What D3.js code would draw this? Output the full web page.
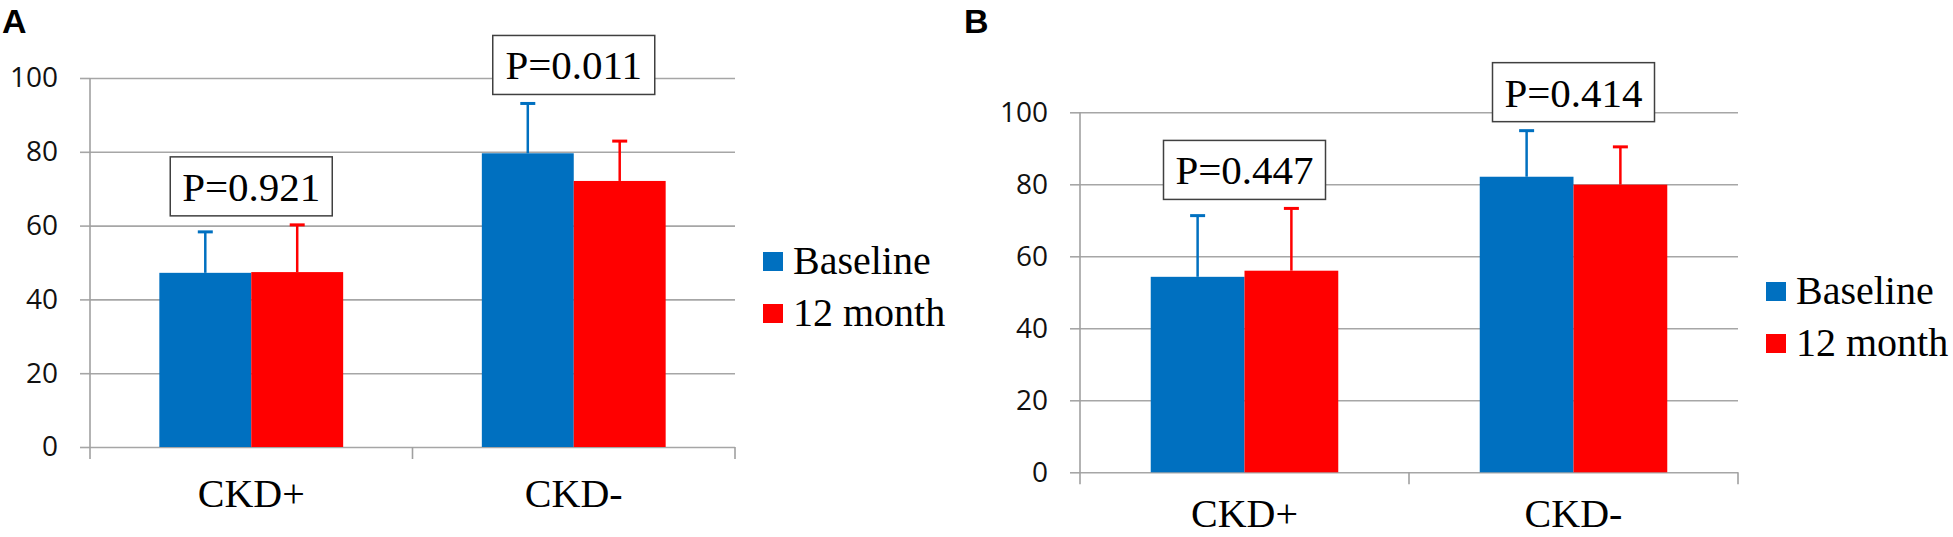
<!DOCTYPE html>
<html>
<script src='https://d3js.org/d3.v7.min.js'></script>
<style>
	body {margin: 0; background: white; }
	svg {display: block; }
</style>
<body>
<svg id="chart" width="1953" height="537"></svg>
<script>
// values
const categories = ["CKD+", "CKD-"];
const seriesNames = ["Baseline", "12 month"];
const seriesColors = ["#0070C0", "#FF0000"];
const yTicks = [0, 20, 40, 60, 80, 100];

const meanA = {"Baseline": [47.2, 79.6], "12 month": [47.4, 72.1]};
const sdA   = {"Baseline": [11.1, 13.5], "12 month": [12.8, 10.8]};
const pA = ["P=0.921", "P=0.011"];

const meanB = {"Baseline": [54.3, 82.1], "12 month": [56.0, 79.9]};
const sdB   = {"Baseline": [17.0, 12.8], "12 month": [17.3, 10.5]};
const pB = ["P=0.447", "P=0.414"];

const svg = d3.select("#chart");

function drawPanel(opt) {
	const g = svg.append("g");

	const x = d3.scaleBand()
		.domain(categories)
		.range([opt.left, opt.right])
		.paddingInner(0.43)
		.paddingOuter(0.215);
	const outer = d3.scaleBand().domain(categories).range([opt.left, opt.right]);
	const x1 = d3.scaleBand().domain(seriesNames).range([0, x.bandwidth()]);

	const y = d3.scaleLinear().domain([0, 100]).range([opt.bottom, opt.top]);

	// gridlines
	g.append("g")
		.attr("transform", `translate(${opt.left},0)`)
		.call(d3.axisLeft(y).tickValues(yTicks).tickSize(-(opt.right - opt.left)).tickFormat(""))
		.call(a => a.select(".domain").remove())
		.call(a => a.selectAll("line").attr("stroke", "#a6a6a6").attr("stroke-width", 1.6));

	// tick marks + labels
	g.append("g")
		.attr("transform", `translate(${opt.left},0)`)
		.call(d3.axisLeft(y).tickValues(yTicks).tickSize(10).tickPadding(22))
		.call(a => a.select(".domain").remove())
		.call(a => a.selectAll("line").attr("stroke", "#a6a6a6").attr("stroke-width", 1.6))
		.call(a => a.selectAll("text")
			.attr("font-family", "'Open Sans', sans-serif")
			.attr("font-size", 28)
			.attr("fill", "#111"));

	// y axis line
	g.append("line")
		.attr("x1", opt.left).attr("x2", opt.left)
		.attr("y1", y(100)).attr("y2", y(0) + 12)
		.attr("stroke", "#a0a0a0").attr("stroke-width", 1.6);

	// category boundary ticks
	g.selectAll(".cat-tick")
		.data(categories)
		.enter()
		.append("line")
		.attr("x1", d => outer(d) + outer.bandwidth())
		.attr("x2", d => outer(d) + outer.bandwidth())
		.attr("y1", y(0)).attr("y2", y(0) + 12)
		.attr("stroke", "#a0a0a0").attr("stroke-width", 1.6);

	const bars = [];
	seriesNames.forEach((s, si) => {
		categories.forEach((c, ci) => {
			bars.push({cat: c, series: s, color: seriesColors[si], mean: opt.mean[s][ci], sd: opt.sd[s][ci]});
		});
	});

	g.selectAll(".bar")
		.data(bars)
		.enter()
		.append("rect")
		.attr("x", d => x(d.cat) + x1(d.series))
		.attr("y", d => y(d.mean))
		.attr("width", x1.bandwidth())
		.attr("height", d => y(0) - y(d.mean))
		.attr("fill", d => d.color);

	// error bars (upper only)
	const eb = g.selectAll(".err")
		.data(bars)
		.enter()
		.append("g");
	eb.append("line")
		.attr("x1", d => x(d.cat) + x1(d.series) + x1.bandwidth() / 2)
		.attr("x2", d => x(d.cat) + x1(d.series) + x1.bandwidth() / 2)
		.attr("y1", d => y(d.mean))
		.attr("y2", d => y(d.mean + d.sd))
		.attr("stroke", d => d.color)
		.attr("stroke-width", 2.5);
	eb.append("line")
		.attr("x1", d => x(d.cat) + x1(d.series) + x1.bandwidth() / 2 - 7.5)
		.attr("x2", d => x(d.cat) + x1(d.series) + x1.bandwidth() / 2 + 7.5)
		.attr("y1", d => y(d.mean + d.sd))
		.attr("y2", d => y(d.mean + d.sd))
		.attr("stroke", d => d.color)
		.attr("stroke-width", 3);

	// category labels
	g.selectAll(".cat-label")
		.data(categories)
		.enter()
		.append("text")
		.attr("x", d => x(d) + x.bandwidth() / 2)
		.attr("y", Math.min(y(0) + 60, 527))
		.attr("text-anchor", "middle")
		.attr("font-family", "'Liberation Serif', 'Times New Roman', serif")
		.attr("font-size", 40)
		.text(d => d);

	// p-value boxes
	const boxW = 162, boxH = 59;
	const pg = g.selectAll(".pbox")
		.data(categories.map((c, i) => ({cat: c, p: opt.p[i],
			top: d3.max(seriesNames, s => opt.mean[s][i] + opt.sd[s][i])})))
		.enter()
		.append("g")
		.attr("transform", d => `translate(${x(d.cat) + x.bandwidth() / 2 - boxW / 2},${y(d.top) - 9 - boxH})`);
	pg.append("rect")
		.attr("width", boxW).attr("height", boxH)
		.attr("fill", "white")
		.attr("stroke", "#404040").attr("stroke-width", 1.5);
	pg.append("text")
		.attr("x", boxW / 2).attr("y", 44)
		.attr("text-anchor", "middle")
		.attr("font-family", "'Liberation Serif', 'Times New Roman', serif")
		.attr("font-size", 41)
		.text(d => d.p);

	// legend
	const lg = g.selectAll(".legend")
		.data(seriesNames)
		.enter()
		.append("g")
		.attr("transform", (d, i) => `translate(${opt.right + 28},${opt.legendTop + i * 52})`);
	lg.append("rect")
		.attr("width", 20).attr("height", 19)
		.attr("fill", (d, i) => seriesColors[i]);
	lg.append("text")
		.attr("x", 30).attr("y", 22)
		.attr("font-family", "'Liberation Serif', 'Times New Roman', serif")
		.attr("font-size", 40)
		.text(d => d);

	// panel letter
	g.append("text")
		.attr("x", opt.letterX).attr("y", 33)
		.attr("font-family", "'Liberation Sans', Arial, sans-serif")
		.attr("font-weight", "bold")
		.attr("font-size", 34)
		.text(opt.letter);
}

drawPanel({letter: "A", letterX: 2, left: 90, right: 735, top: 78, bottom: 447,
	legendTop: 252, mean: meanA, sd: sdA, p: pA});
drawPanel({letter: "B", letterX: 964, left: 1080, right: 1738, top: 112.3, bottom: 472.3,
	legendTop: 282, mean: meanB, sd: sdB, p: pB});
</script>
</body>
</html>
